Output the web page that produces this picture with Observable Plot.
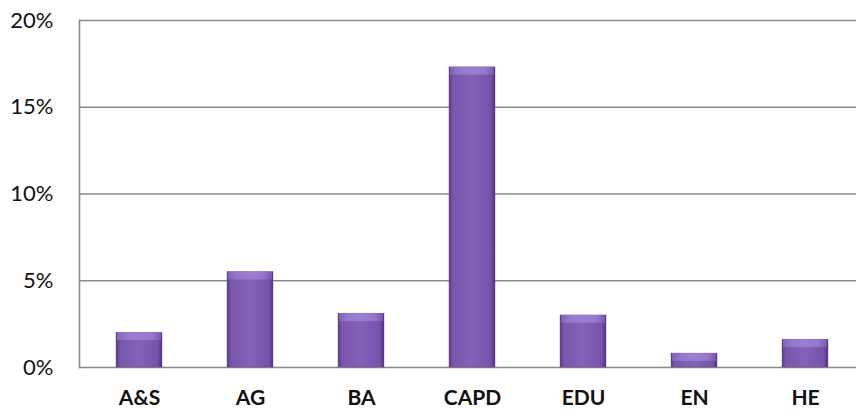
<!DOCTYPE html>
<html>
<head>
<meta charset="utf-8">
<script src="https://cdn.jsdelivr.net/npm/d3@7"></script>
<script src="https://cdn.jsdelivr.net/npm/@observablehq/plot@0.6"></script>
<style>
  html, body { margin: 0; padding: 0; background: #fff; overflow: hidden; }
  #chart svg { display: block; }
</style>
</head>
<body>
<div id="chart"></div>
<script>
const categories = ["A&S", "AG", "BA", "CAPD", "EDU", "EN", "HE"];
const values = [0.020, 0.055, 0.031, 0.173, 0.030, 0.008, 0.016];
const yTicks = [0, 0.05, 0.10, 0.15, 0.20];

const data = categories.map((c, i) => ({ cat: c, v: values[i] }));

const chart = Plot.plot({
  width: 856,
  height: 411,
  marginLeft: 79,
  marginRight: -8,
  marginTop: 20,
  marginBottom: 44,
  style: { fontFamily: "Lato, 'Open Sans', sans-serif", background: "#fff", overflow: "visible" },
  x: { domain: categories, paddingInner: 0.59, paddingOuter: 0.3, label: null },
  y: { domain: [0, 0.20], label: null },
  marks: [
    Plot.ruleY(yTicks, { stroke: "#888888", strokeWidth: 1.6 }),
    Plot.frame({ anchor: "left", stroke: "#888888", strokeWidth: 1.6 }),
    Plot.barY(data, { x: "cat", y: "v", fill: "url(#barGrad)", stroke: "#5a3d86", strokeWidth: 0.6, strokeOpacity: 0.6 }),
    Plot.barY(data, { x: "cat", y1: d => d.v - 0.0045, y2: "v", fill: "url(#bevelGrad)", insetLeft: 1, insetRight: 1 }),
    Plot.axisY({ ticks: yTicks, tickFormat: d3.format(".0%"), tickSize: 0, tickPadding: 26, fontSize: 22, fill: "#111" }),
    Plot.axisX({ tickSize: 0, tickPadding: 23, fontSize: 21, fontWeight: "bold", fill: "#111" })
  ]
});

const svg = d3.select(chart);
const defs = svg.insert("defs", ":first-child");
const g1 = defs.append("linearGradient").attr("id", "barGrad").attr("x1", "0").attr("x2", "1").attr("y1", "0").attr("y2", "0");
[["0%", "#5b3d8c"], ["9%", "#7a56ad"], ["50%", "#8462b8"], ["91%", "#7652aa"], ["100%", "#4e3278"]]
  .forEach(([o, c]) => g1.append("stop").attr("offset", o).attr("stop-color", c));
const g2 = defs.append("linearGradient").attr("id", "bevelGrad").attr("x1", "0").attr("x2", "1").attr("y1", "0").attr("y2", "0");
[["0%", "#8262b6"], ["20%", "#9678ca"], ["50%", "#9a7ecf"], ["80%", "#9678ca"], ["100%", "#7a58ae"]]
  .forEach(([o, c]) => g2.append("stop").attr("offset", o).attr("stop-color", c));

document.getElementById("chart").appendChild(chart);
</script>
</body>
</html>
